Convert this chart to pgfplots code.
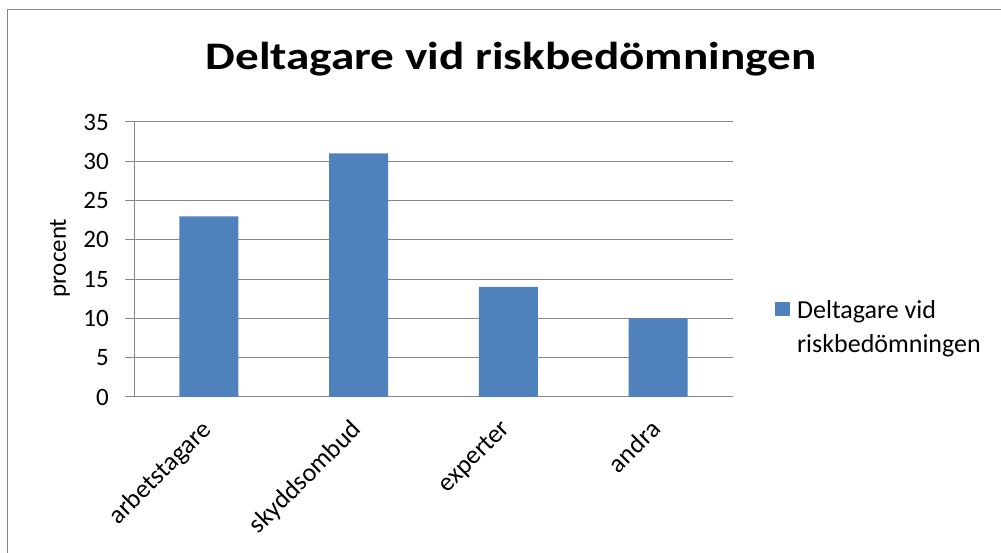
\documentclass[border=0pt]{standalone}
\usepackage{pgfplots}
\pgfplotsset{compat=1.18}
\usepackage{fontspec}
\setmainfont{Carlito}
\newfontfamily\titlefont{Carlito Bold}[FakeStretch=1.21]
\definecolor{barblue}{HTML}{4F81BD}
\definecolor{gridgray}{HTML}{868686}
\begin{document}
\begin{tikzpicture}[x=1pt,y=1pt]
\path[use as bounding box] (0,0) rectangle (1001,553);
\draw[gridgray, line width=1.5pt] (7.5,0) -- (7.5,543.5) -- (1001,543.5);
\node[font=\titlefont\fontsize{39}{47}\selectfont, anchor=base] at (511,483) {Deltagare vid riskbedömningen};
\begin{axis}[
  at={(134pt,156pt)}, anchor=south west, scale only axis,
  width=599pt, height=275pt,
  xmin=-0.5, xmax=3.5, ymin=0, ymax=35,
  ytick={0,5,...,35},
  xtick={0,1,2,3},
  xticklabels={arbetstagare,skyddsombud,experter,andra},
  axis x line*=bottom, axis y line*=left,
  axis line style={gridgray, line width=1pt, -},
  ymajorgrids, grid style={gridgray, line width=1pt},
  ytick style={gridgray, line width=1pt},
  ytick align=outside, major tick length=9pt,
  xtick style={draw=none},
  /pgf/number format/assume math mode=true,
  yticklabel style={font=\fontsize{25}{30}\selectfont, anchor=east, inner sep=0pt, xshift=-16pt},
  xticklabel style={font=\fontsize{26}{31}\selectfont, xshift=-9pt, yshift=-21pt, rotate=45, anchor=north east, inner sep=0pt},
  ylabel={procent},
  ylabel style={font=\fontsize{25}{30}\selectfont, at={(axis description cs:-0.1235,0.505)}, anchor=center},
  legend style={draw=none, fill=none, at={(axis description cs:1.065,0.36)}, anchor=north west,
    font=\fontsize{26}{34}\selectfont, nodes={align=left, inner sep=0pt},
    /tikz/every odd column/.append style={column sep=7pt}},
  legend image code/.code={\fill[barblue] (0pt,11pt) rectangle (15pt,25pt);},
]
\addplot[ybar, bar width=59pt, fill=barblue, draw=none] coordinates {(0,23) (1,31) (2,14) (3,10)};
\addlegendentry{Deltagare vid\\riskbedömningen}
\end{axis}
\end{tikzpicture}
\end{document}
